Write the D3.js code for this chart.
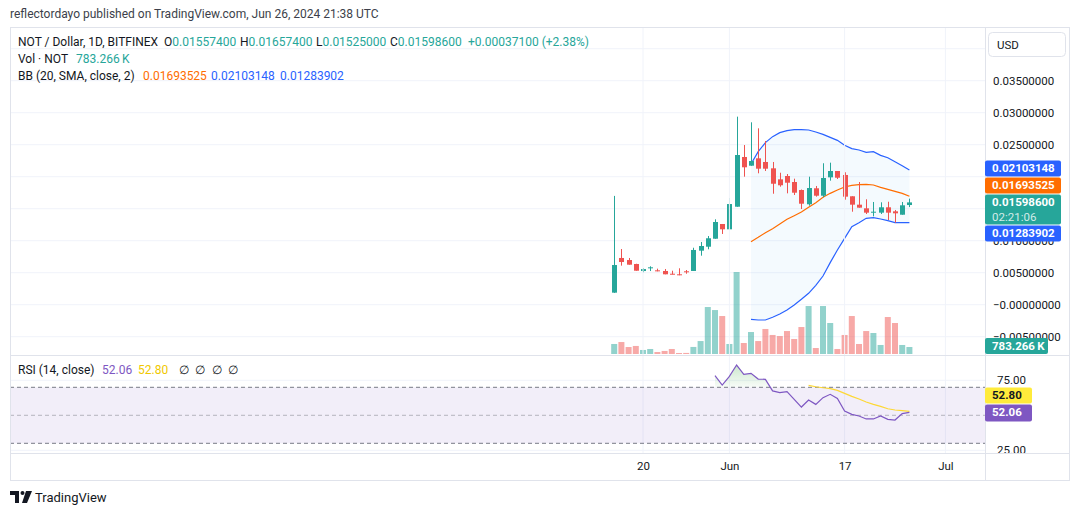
<!DOCTYPE html>
<html>
<head>
<meta charset="utf-8">
<script src="https://cdn.jsdelivr.net/npm/d3@7"></script>
<style>
html, body { margin: 0; padding: 0; background: #fff; }
svg { display: block; font-family: Roboto, "Noto Sans", sans-serif; }
</style>
</head>
<body>
<svg id="chart" width="1080" height="515"></svg>
<script>
// daily candles NOT / Dollar (BITFINEX)
const days = ["2024-05-16","2024-05-17","2024-05-18","2024-05-19","2024-05-20","2024-05-21","2024-05-22",
  "2024-05-23","2024-05-24","2024-05-25","2024-05-26","2024-05-27","2024-05-28","2024-05-29","2024-05-30",
  "2024-05-31","2024-06-01","2024-06-02","2024-06-03","2024-06-04","2024-06-05","2024-06-06","2024-06-07",
  "2024-06-08","2024-06-09","2024-06-10","2024-06-11","2024-06-12","2024-06-13","2024-06-14","2024-06-15",
  "2024-06-16","2024-06-17","2024-06-18","2024-06-19","2024-06-20","2024-06-21","2024-06-22","2024-06-23",
  "2024-06-24","2024-06-25","2024-06-26"];
const open = [0.00188,0.0073,0.00698,0.00636,0.00526,0.00569,0.00537,0.00527,0.00484,0.00475,0.00522,
  0.00527,0.00844,0.00906,0.01031,0.01261,0.01178,0.01531,0.02308,0.02172,0.02287,0.0223,0.02131,
  0.01959,0.02011,0.01917,0.01792,0.01569,0.01819,0.01703,0.0199,0.02089,0.02027,0.01694,0.01563,
  0.01506,0.01444,0.01438,0.01522,0.01459,0.01406,0.015574];
const high = [0.0170,0.0087,0.0073,0.0064,0.00569,0.0060,0.00563,0.00558,0.00531,0.00569,0.00542,
  0.0089,0.0098,0.01073,0.01334,0.01261,0.01667,0.02938,0.02495,0.0285,0.02756,0.02558,0.0223,
  0.02062,0.02042,0.01969,0.0180,0.0200,0.01855,0.0221,0.02219,0.02089,0.02069,0.01694,0.01917,
  0.01647,0.01605,0.0160,0.01609,0.0148,0.01605,0.016574];
const low = [0.00185,0.0061,0.00625,0.00531,0.00506,0.00526,0.00522,0.00475,0.00475,0.0046,0.00484,
  0.00527,0.00766,0.00866,0.0103,0.01105,0.01178,0.0153,0.0200,0.0217,0.02053,0.02089,0.01734,
  0.01844,0.0174,0.01714,0.01495,0.01547,0.01688,0.01678,0.01938,0.01964,0.01641,0.01453,0.01516,
  0.01417,0.01381,0.01417,0.01323,0.01281,0.01406,0.01525];
const close = [0.0062,0.00667,0.00625,0.00531,0.00557,0.00584,0.00522,0.00475,0.00475,0.0046,0.00506,
  0.00855,0.00917,0.01038,0.01292,0.01178,0.01573,0.02339,0.02147,0.02245,0.02125,0.02125,0.0189,
  0.01866,0.01906,0.0175,0.01578,0.01823,0.01703,0.0198,0.02089,0.01984,0.01688,0.01563,0.01516,
  0.01438,0.01453,0.01522,0.01438,0.01428,0.01553,0.015986];
// volume, thousands of NOT
const volume = [1120,1340,780,900,450,560,220,340,560,110,120,790,1450,5260,4920,4250,1120,9180,1230,
  2460,1450,2800,2130,2010,2570,1680,3020,5370,670,5370,3470,560,2130,4250,1120,2570,2350,1010,4140,
  3470,1010,783.266];

// Bollinger Bands (20, SMA, close, 2), first value on candle index 19
const bbStart = 19;
const bbUpper = [0.02198,0.02391,0.02532,0.02626,0.02688,0.02719,0.02735,0.02735,0.0273,0.02698,0.02662,
  0.02615,0.02568,0.0249,0.02438,0.02417,0.02381,0.02391,0.02334,0.02297,0.02235,0.02172,0.02103148];
const bbMid = [0.00985,0.01053,0.01125,0.01188,0.01261,0.01334,0.01391,0.01448,0.01521,0.01594,0.01678,
  0.0174,0.01792,0.01839,0.01865,0.01876,0.01881,0.0187,0.01834,0.01803,0.01771,0.0174,0.01693525];
const bbLower = [-0.00229,-0.00239,-0.00239,-0.00197,-0.00145,-0.00083,-0.00005,0.00084,0.00178,0.00303,
  0.00448,0.00657,0.00855,0.01037,0.01219,0.01282,0.0135,0.0136,0.01339,0.01313,0.01282,0.01282,0.01283902];

// RSI (14, close) from candle 14, its SMA(14) from candle 27
const rsiStart = 14;
const rsi = [78.3,71.6,77.8,85.9,79.3,80.0,75.9,75.7,67.4,66.2,66.9,61.4,55.9,60.9,57.8,62.6,65.0,62.1,
  53.1,50.7,49.5,47.4,47.4,49.5,47.1,46.6,51.2,52.06];
const rsiMaStart = 27;
const rsiMa = [71.4,70.4,69.7,69.0,67.8,65.7,63.5,61.6,59.5,57.8,56.4,54.7,53.8,53.3,52.80];

// axes (0.015 and 0.02 sit under the value labels and are not shown)
const priceTicks = [-0.005,0,0.005,0.01,0.025,0.03,0.035];
const priceTickLabels = ["\u22120.00500000","\u22120.00000000","0.00500000","0.01000000",
  "0.02500000","0.03000000","0.03500000"];
const priceGrid = [-0.005,0,0.005,0.01,0.015,0.02,0.025,0.03,0.035,0.04];
const rsiTicks = [75,25];
const timeTicks = ["2024-05-20","2024-06-01","2024-06-17","2024-07-01"];
const timeTickLabels = ["20","Jun","17","Jul"];

const green = "#26a69a", red = "#ef5350", blue = "#2962ff", orange = "#ff6d00",
      purple = "#7e57c2", yellow = "#fdd835", text = "#131722", border = "#e0e3eb", grid = "#f0f3fa";

const svg = d3.select("#chart");
const L = 10, AX = 985, R = 1069, TOP = 27, MAINB = 355, RSIB = 453, BOT = 480;

const parse = d3.utcParse("%Y-%m-%d");
const dates = days.map(parse);
const x = d3.scaleUtc().domain([parse("2024-05-20"), parse("2024-07-01")]).range([643, 945.4]);
const y = d3.scaleLinear().domain([-0.005, 0.035]).range([336.7, 80.7]);
const vy = d3.scaleLinear().domain([0, 9180]).range([354, 272]);
const ry = d3.scaleLinear().domain([30, 70]).range([443.3, 387.3]);

const defs = svg.append("defs");
defs.append("clipPath").attr("id", "mainClip").append("rect")
  .attr("x", L).attr("y", TOP).attr("width", AX - L).attr("height", MAINB - TOP);
defs.append("clipPath").attr("id", "rsiClip").append("rect")
  .attr("x", L).attr("y", MAINB).attr("width", AX - L).attr("height", RSIB - MAINB);
defs.append("clipPath").attr("id", "rsiAxisClip").append("rect")
  .attr("x", AX).attr("y", MAINB).attr("width", R - AX).attr("height", RSIB - MAINB);
defs.append("clipPath").attr("id", "obClip").append("rect")
  .attr("x", L).attr("y", MAINB).attr("width", AX - L).attr("height", ry(70) - MAINB);
const grad = defs.append("linearGradient").attr("id", "obGrad")
  .attr("gradientUnits", "userSpaceOnUse").attr("x1", 0).attr("x2", 0)
  .attr("y1", ry(90)).attr("y2", ry(70));
grad.append("stop").attr("offset", 0).attr("stop-color", "#4caf50").attr("stop-opacity", 0.35);
grad.append("stop").attr("offset", 1).attr("stop-color", "#4caf50").attr("stop-opacity", 0.04);

// title line
svg.append("text").attr("x", 10).attr("y", 14).attr("dy", "0.35em")
  .attr("font-size", 12).attr("fill", "#3c3f4a")
  .text("reflectordayo published on TradingView.com, Jun 26, 2024 21:38 UTC");

// ---------- main pane ----------
const main = svg.append("g").attr("clip-path", "url(#mainClip)");

main.append("g").selectAll("line").data(priceGrid).join("line")
  .attr("x1", L).attr("x2", AX).attr("y1", d => y(d)).attr("y2", d => y(d))
  .attr("stroke", grid);
svg.append("g").selectAll("line").data(timeTicks).join("line")
  .attr("x1", d => x(parse(d))).attr("x2", d => x(parse(d)))
  .attr("y1", TOP).attr("y2", RSIB).attr("stroke", grid);

const bbIdx = d3.range(bbUpper.length);
main.append("path").datum(bbIdx)
  .attr("fill", "rgba(33,150,243,0.05)")
  .attr("d", d3.area().x(i => x(dates[i + bbStart])).y0(i => y(bbLower[i])).y1(i => y(bbUpper[i])));

main.append("g").selectAll("rect").data(volume).join("rect")
  .attr("x", (d, i) => x(dates[i]) - 3)
  .attr("width", 6)
  .attr("y", d => vy(d))
  .attr("height", d => vy(0) - vy(d))
  .attr("fill", (d, i) => close[i] >= open[i] ? "rgba(38,166,154,0.5)" : "rgba(239,83,80,0.5)");

const bbLine = arr => d3.line().x(i => x(dates[i + bbStart])).y(i => y(arr[i]));
main.append("path").datum(bbIdx).attr("fill", "none").attr("stroke", blue).attr("stroke-width", 1.2).attr("d", bbLine(bbUpper));
main.append("path").datum(bbIdx).attr("fill", "none").attr("stroke", blue).attr("stroke-width", 1.2).attr("d", bbLine(bbLower));
main.append("path").datum(bbIdx).attr("fill", "none").attr("stroke", orange).attr("stroke-width", 1.2).attr("d", bbLine(bbMid));

const candle = main.append("g").selectAll("g").data(d3.range(days.length)).join("g")
  .attr("fill", i => close[i] >= open[i] ? green : red)
  .attr("stroke", i => close[i] >= open[i] ? green : red);
candle.append("line")
  .attr("x1", i => Math.round(x(dates[i])) + 0.5).attr("x2", i => Math.round(x(dates[i])) + 0.5)
  .attr("y1", i => y(high[i])).attr("y2", i => y(low[i]));
candle.append("rect")
  .attr("stroke", "none")
  .attr("x", i => Math.round(x(dates[i])) - 2)
  .attr("width", 5)
  .attr("y", i => y(Math.max(open[i], close[i])))
  .attr("height", i => Math.max(1, Math.abs(y(open[i]) - y(close[i]))));

// legend
const legend = svg.append("g").attr("font-size", 12).attr("fill", text);
legend.append("text").attr("x", 18).attr("y", 42).attr("dy", "0.35em").text("NOT / Dollar, 1D, BITFINEX");
[["O", open[41], 164], ["H", high[41], 240], ["L", low[41], 316], ["C", close[41], 390]].forEach(([k, v, px]) => {
  const t = legend.append("text").attr("x", px).attr("y", 42).attr("dy", "0.35em");
  t.append("tspan").text(k);
  t.append("tspan").attr("fill", green).text(v.toFixed(8));
});
legend.append("text").attr("x", 468).attr("y", 42).attr("dy", "0.35em").attr("fill", green)
  .text("+0.00037100 (+2.38%)");
const l2 = legend.append("text").attr("x", 18).attr("y", 59).attr("dy", "0.35em");
l2.append("tspan").text("Vol \u00b7 NOT");
l2.append("tspan").attr("x", 76).attr("fill", green).text("783.266\u2009K");
const l3 = legend.append("text").attr("x", 18).attr("y", 76).attr("dy", "0.35em");
l3.append("tspan").text("BB (20, SMA, close, 2)");
l3.append("tspan").attr("x", 143).attr("fill", orange).text(bbMid[bbMid.length - 1].toFixed(8));
l3.append("tspan").attr("x", 211).attr("fill", blue).text(bbUpper[bbUpper.length - 1].toFixed(8));
l3.append("tspan").attr("x", 280).attr("fill", blue).text(bbLower[bbLower.length - 1].toFixed(8));

// ---------- RSI pane ----------
const rp = svg.append("g").attr("clip-path", "url(#rsiClip)");
rp.append("g").selectAll("line").data(rsiTicks).join("line")
  .attr("x1", L).attr("x2", AX).attr("y1", d => ry(d)).attr("y2", d => ry(d)).attr("stroke", grid);
rp.append("rect").attr("x", L).attr("width", AX - L).attr("y", ry(70)).attr("height", ry(30) - ry(70))
  .attr("fill", "rgba(126,87,194,0.1)");
[[70, 1], [50, 0.5], [30, 1]].forEach(([lv, op]) => {
  rp.append("line").attr("x1", L).attr("x2", AX).attr("y1", ry(lv)).attr("y2", ry(lv))
    .attr("stroke", "#787b86").attr("stroke-opacity", op).attr("stroke-dasharray", "4,3");
});
const rsiIdx = d3.range(rsi.length);
rp.append("path").datum(rsiIdx).attr("clip-path", "url(#obClip)").attr("fill", "url(#obGrad)")
  .attr("d", d3.area().x(i => x(dates[i + rsiStart])).y0(ry(70)).y1(i => ry(rsi[i])));
rp.append("path").datum(d3.range(rsiMa.length)).attr("fill", "none").attr("stroke", yellow).attr("stroke-width", 1.2)
  .attr("d", d3.line().x(i => x(dates[i + rsiMaStart])).y(i => ry(rsiMa[i])));
rp.append("path").datum(rsiIdx).attr("fill", "none").attr("stroke", purple).attr("stroke-width", 1.2)
  .attr("d", d3.line().x(i => x(dates[i + rsiStart])).y(i => ry(rsi[i])));

const rl = svg.append("text").attr("x", 18).attr("y", 370).attr("dy", "0.35em").attr("font-size", 12).attr("fill", text);
rl.append("tspan").text("RSI (14, close)");
rl.append("tspan").attr("x", 102).attr("fill", purple).text(rsi[rsi.length - 1].toFixed(2));
rl.append("tspan").attr("x", 138).attr("fill", "#f0c800").text(rsiMa[rsiMa.length - 1].toFixed(2));
[179, 195, 212, 228].forEach(px => rl.append("tspan").attr("x", px).text("\u2205"));

// ---------- frame ----------
const fr = svg.append("g").attr("stroke", border).attr("fill", "none");
fr.append("rect").attr("x", L + 0.5).attr("y", TOP + 0.5).attr("width", R - L).attr("height", BOT - TOP);
fr.append("line").attr("x1", AX + 0.5).attr("x2", AX + 0.5).attr("y1", TOP).attr("y2", BOT);
fr.append("line").attr("x1", L).attr("x2", R).attr("y1", MAINB + 0.5).attr("y2", MAINB + 0.5);
fr.append("line").attr("x1", L).attr("x2", R).attr("y1", RSIB + 0.5).attr("y2", RSIB + 0.5);

// ---------- axes ----------
const styleAxis = g => {
  g.select(".domain").remove();
  g.selectAll("text").attr("fill", text).attr("font-size", 11.5).attr("font-family", "Roboto, sans-serif");
};
svg.append("g").attr("transform", `translate(${AX},0)`)
  .call(d3.axisRight(y).tickValues(priceTicks).tickFormat((d, i) => priceTickLabels[i]).tickSize(0).tickPadding(8))
  .call(styleAxis);
svg.append("g").attr("clip-path", "url(#rsiAxisClip)").append("g").attr("transform", `translate(${AX},0)`)
  .call(d3.axisRight(ry).tickValues(rsiTicks).tickFormat(d3.format(".2f")).tickSize(0).tickPadding(12))
  .call(styleAxis);
svg.append("g").attr("transform", `translate(0,${RSIB})`)
  .call(d3.axisBottom(x).tickValues(timeTicks.map(parse)).tickFormat((d, i) => timeTickLabels[i]).tickSize(0))
  .call(styleAxis)
  .call(g => g.selectAll("text").attr("y", 13).attr("dy", "0.35em"));

// USD button
svg.append("rect").attr("x", 988.5).attr("y", 32.5).attr("width", 77).attr("height", 24).attr("rx", 4)
  .attr("fill", "#fff").attr("stroke", border);
svg.append("text").attr("x", 997).attr("y", 45).attr("dy", "0.35em").attr("font-size", 11.5).attr("fill", text).text("USD");

// price labels on the axis, pushed apart around the last price
const lastY = y(close[41]);
const closeTop = lastY - 8, closeBottom = lastY + 22;
const midY = Math.min(y(bbMid[22]) - 8, closeTop - 17);
const upY = Math.min(y(bbUpper[22]) - 8, midY - 17);
const lowY = Math.max(y(bbLower[22]) - 8, closeBottom + 1);
const boxes = [
  { top: upY, h: 16, fill: blue, label: bbUpper[22].toFixed(8) },
  { top: midY, h: 16, fill: orange, label: bbMid[22].toFixed(8) },
  { top: closeTop, h: 30, fill: green, label: close[41].toFixed(8), sub: "02:21:06" },
  { top: lowY, h: 16, fill: blue, label: bbLower[22].toFixed(8) },
  { top: Math.min(vy(volume[41]), 354 - 8) - 8, h: 16, fill: green, label: "783.266\u2009K", w: 63 },
  { top: ry(rsi[27]) - 8, h: 17, fill: purple, label: rsi[27].toFixed(2), w: 47 },
  { top: ry(rsi[27]) - 25, h: 16, fill: "#ffeb3b", label: rsiMa[14].toFixed(2), w: 47, color: text }
];
const bg = svg.append("g").selectAll("g").data(boxes).join("g");
bg.append("rect").attr("x", AX).attr("y", b => b.top).attr("width", b => b.w || 76).attr("height", b => b.h)
  .attr("rx", 2).attr("fill", b => b.fill);
bg.append("text").attr("x", AX + 7).attr("y", b => b.top + 8).attr("dy", "0.35em")
  .attr("font-size", 11.5).attr("font-weight", "bold").attr("fill", b => b.color || "#fff").text(b => b.label);
bg.filter(b => b.sub).append("text").attr("x", AX + 7).attr("y", b => b.top + 22.5).attr("dy", "0.35em")
  .attr("font-size", 11.5).attr("fill", "#fff").attr("fill-opacity", 0.8).text(b => b.sub);

// TradingView mark
const logo = svg.append("g").attr("fill", text);
logo.append("path").attr("d", "M10,491 h9 v12 h-4 v-8 h-5 z");
logo.append("circle").attr("cx", 22.5).attr("cy", 493).attr("r", 2);
logo.append("path").attr("d", "M26,491 h6 l-5,12 h-5 z");
svg.append("text").attr("x", 35).attr("y", 497).attr("dy", "0.35em").attr("font-size", 13)
  .attr("fill", text).text("TradingView");
</script>
</body>
</html>
